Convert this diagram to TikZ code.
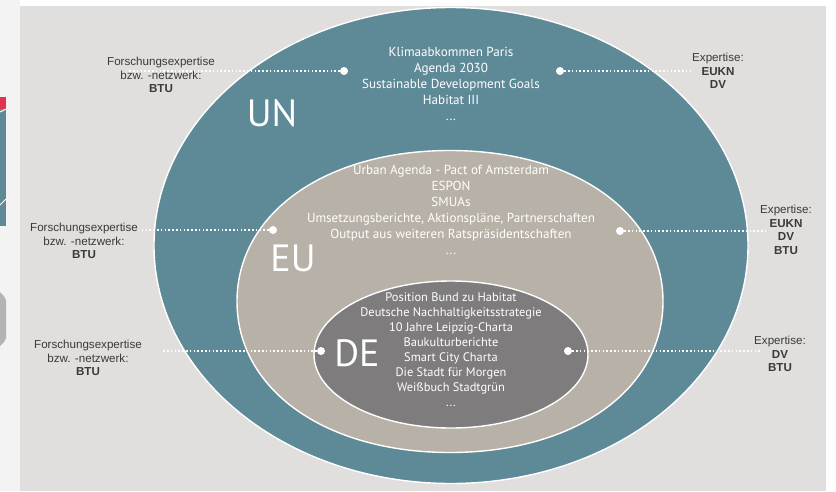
\documentclass[tikz,border=0pt]{standalone}
\usepackage{fontspec}
\setmainfont{PT Sans}
\newfontfamily\sidefont{Liberation Sans}
\usetikzlibrary{shapes.geometric}
\definecolor{panelgray}{HTML}{E0DFDD}
\definecolor{stripbg}{HTML}{F3F3F3}
\definecolor{unteal}{HTML}{5E8A97}
\definecolor{eubeige}{HTML}{B8B1A7}
\definecolor{degray}{HTML}{7E7C7C}
\definecolor{sidetext}{HTML}{3A3A3A}
\definecolor{slidered}{HTML}{E0344A}
\definecolor{slidegray}{HTML}{B4B4B4}
\begin{document}
\begin{tikzpicture}[x=1pt,y=-1pt,
  ring/.style={draw=white,line width=1.4pt},
  biglabel/.style={text=white,font=\fontsize{38}{38}\selectfont,inner sep=0pt},
  listtext/.style={text=white,align=center,inner sep=0pt},
  sidelabel/.style={text=sidetext,align=center,inner sep=0pt,
    font=\sidefont\fontsize{11.6}{13.5}\selectfont},
  dot/.style={circle,fill=white,minimum size=8pt,inner sep=0pt},
  leader/.style={draw=white,line width=1.6pt,dash pattern=on 1.6pt off 2.2pt}]
\useasboundingbox (0,0) rectangle (836,491);
% page background and neighbouring slide strip
\fill[white] (0,0) rectangle (836,491);
\fill[stripbg] (0,0) rectangle (20,491);
\fill[slidered] (0,97) rectangle (6,109);
\fill[unteal] (0,109) rectangle (6,226);
\draw[white,line width=1pt] (0,112) -- (6,109);
\draw[white,line width=1pt] (0,205) -- (6,199);
\fill[slidegray] (0,292) -- (4,296) -- (6,300) -- (6,338) -- (4,342) -- (0,346) -- cycle;
% panel
\fill[panelgray] (20,6) rectangle (826,491);
% nested ellipses (the EU one slightly fuller at the shoulders)
\path[ring,fill=unteal] (451,245.5) ellipse [x radius=297pt, y radius=238pt];
\path[ring,fill=eubeige] (663,301.5)
  .. controls (663,213.2) and (574.6,150.5) .. (450,150.5)
  .. controls (325.4,150.5) and (237,213.2) .. (237,301.5)
  .. controls (237,389.8) and (325.4,452.5) .. (450,452.5)
  .. controls (574.6,452.5) and (663,389.8) .. cycle;
\path[ring,fill=degray] (451,354.5) ellipse [x radius=137pt, y radius=73.5pt];
% level names
\node[biglabel] (un) at (272,113) {UN};
\node[biglabel] (eu) at (293,258) {EU};
\node[biglabel] (de) at (357,353) {DE};
% document lists
\node[listtext,anchor=north,font=\fontsize{13.1}{16}\selectfont] (unlist) at (451,47.5)
  {Klimaabkommen Paris\\Agenda 2030\\Sustainable Development Goals\\Habitat III\\...};
\node[listtext,anchor=north,font=\fontsize{13.1}{16}\selectfont] (eulist) at (451,164.5)
  {Urban Agenda - Pact of Amsterdam\\ESPON\\SMUAs\\Umsetzungsberichte, Aktionspläne, Partnerschaften\\Output aus weiteren Ratspräsidentschaften\\...};
\node[listtext,anchor=north,font=\fontsize{12.4}{15}\selectfont] (delist) at (451,292.5)
  {Position Bund zu Habitat\\Deutsche Nachhaltigkeitsstrategie\\10 Jahre Leipzig-Charta\\Baukulturberichte\\Smart City Charta\\Die Stadt für Morgen\\Weißbuch Stadtgrün\\...};
% expertise labels
\node[sidelabel] (unleft) at (161,75) {Forschungsexpertise\\bzw. -netzwerk:\\\textbf{BTU}};
\node[sidelabel] (unright) at (718,71) {Expertise:\\\textbf{EUKN}\\\textbf{DV}};
\node[sidelabel] (euleft) at (84,241) {Forschungsexpertise\\bzw. -netzwerk:\\\textbf{BTU}};
\node[sidelabel] (euright) at (786,230) {Expertise:\\\textbf{EUKN}\\\textbf{DV}\\\textbf{BTU}};
\node[sidelabel] (deleft) at (88,358) {Forschungsexpertise\\bzw. -netzwerk:\\\textbf{BTU}};
\node[sidelabel] (deright) at (780,354) {Expertise:\\\textbf{DV}\\\textbf{BTU}};
% anchor points and leader ends
\node[dot] (unl) at (344,71) {};
\node[dot] (unr) at (560,71) {};
\node[dot] (eul) at (273,230) {};
\node[dot] (eur) at (620,231) {};
\node[dot] (del) at (321,351) {};
\node[dot] (der) at (568,351) {};
\coordinate (unlend) at (128,71);
\coordinate (unrend) at (690,71);
\coordinate (eulend) at (140,230);
\coordinate (eurend) at (767,231);
\coordinate (delend) at (163,351);
\coordinate (derend) at (760,351);
\draw[leader] (unl) -- (unlend);
\draw[leader] (unr) -- (unrend);
\draw[leader] (eul) -- (eulend);
\draw[leader] (eur) -- (eurend);
\draw[leader] (del) -- (delend);
\draw[leader] (der) -- (derend);
\end{tikzpicture}
\end{document}
